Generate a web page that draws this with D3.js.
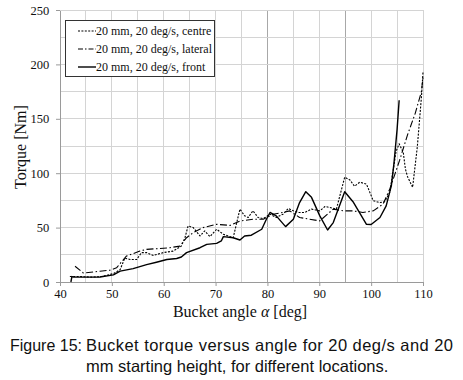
<!DOCTYPE html>
<html>
<head>
<meta charset="utf-8">
<script src="https://cdn.jsdelivr.net/npm/d3@7"></script>
<style>
  html, body { margin: 0; padding: 0; background: #fff; }
  svg { display: block; }
  .serif { font-family: "Liberation Serif", "DejaVu Serif", serif; }
  .caption { font-family: "Liberation Sans", Arial, sans-serif; font-size: 16.5px; fill: #111; }
</style>
</head>
<body>
<svg id="chart" width="463" height="380"></svg>
<script>
// ── Data ────────────────────────────────────────────────────────────────────
const centreAngle = [41.9, 44, 46, 48, 50.3, 51.6, 52.5, 53.5, 54.8, 55.7, 56.7, 58, 59.9, 61.8, 63.4, 64.1, 64.7, 65.7, 67, 67.9, 68.9, 70.2, 71.5, 73.4, 74.7, 75.6, 76.3, 77.2, 78.2, 79.2, 80.5, 81.7, 83, 84, 85, 86, 87.2, 88.5, 90.1, 91.1, 92, 93.3, 94.9, 95.9, 96.8, 97.8, 99.1, 100.4, 101.7, 102.6, 103.6, 104.2, 104.8, 105.4, 106.2, 106.6, 107, 108, 108.9, 109.7, 110];
const centreTorque = [5, 5, 4.5, 5, 7.7, 11.4, 22, 20.7, 20.7, 27, 27, 24.4, 27, 28.4, 33, 40.7, 51.5, 50, 42.3, 46.9, 41.7, 48.5, 43.8, 40.7, 67, 60.8, 59.3, 65.4, 59.3, 58.3, 62.3, 59.3, 62.3, 67.6, 65.4, 63.9, 63.9, 67, 65.4, 69.4, 68.5, 67, 96.3, 93.8, 88, 91.7, 90, 74.7, 73, 73.8, 82.4, 101, 120, 127, 119, 104, 97, 87, 124, 170, 193];

const lateralAngle = [42.9, 44.5, 47.7, 49.6, 50.9, 52.8, 55.4, 56.7, 58.6, 61.2, 63.1, 64.4, 65.7, 67.6, 70.2, 72.8, 74.7, 77.2, 79.2, 81.1, 83, 84.3, 86.2, 88.1, 90.1, 92.7, 94.6, 96.5, 98.4, 100.4, 102.3, 103.6, 104.6, 105.5, 107, 108.5, 109.7, 110];
const lateralTorque = [14.5, 8.3, 9.9, 10.8, 13, 23.8, 28.4, 30, 30.6, 31.5, 33, 40.7, 45.4, 50, 53, 52, 56, 57.7, 57.7, 62.3, 63.9, 65.4, 59.3, 57.7, 56.2, 67, 65.4, 65.4, 63.9, 65.4, 71.6, 85.5, 99.4, 112, 135, 155, 175, 188];

const frontAngle = [42.1, 42.3, 42.6, 45, 47.7, 50.3, 51.6, 54.1, 56.7, 58.6, 60.6, 62.5, 63.4, 64.4, 67, 68.3, 70.2, 71.1, 71.5, 73.4, 74.7, 75.6, 76.9, 78.9, 79.8, 80.5, 81.7, 83.5, 85, 86.2, 87.4, 88.5, 90.1, 91.6, 92.7, 94.9, 96.5, 99.1, 100, 101.7, 102.9, 103.9, 104.4, 105, 105.4];
const frontTorque = [0, 5, 4.6, 4.5, 4.6, 6.5, 10, 12.3, 16, 18.2, 20.7, 21.6, 23, 27, 31.5, 34.6, 35.5, 37.7, 41.7, 40.7, 38.6, 42.3, 43, 48.5, 57.7, 63.9, 60.8, 50.9, 57.7, 73, 83, 77.8, 60.8, 47.8, 54.6, 83, 73.8, 53, 52.8, 59.3, 70, 88.6, 109, 140, 167];

const seriesNames = ["20 mm, 20 deg/s, centre", "20 mm, 20 deg/s, lateral", "20 mm, 20 deg/s, front"];
const xTicks = [40, 50, 60, 70, 80, 90, 100, 110];
const yTicks = [0, 50, 100, 150, 200, 250];

// ── Layout ──────────────────────────────────────────────────────────────────
const svg = d3.select("#chart");
const m = { left: 60, right: 423, top: 10, bottom: 282 };

const x = d3.scaleLinear().domain([40, 110]).range([m.left, m.right]);
const y = d3.scaleLinear().domain([0, 250]).range([m.bottom, m.top]);

// grid
const grid = svg.append("g");
grid.selectAll("line.v").data(d3.range(45, 111, 5)).join("line")
    .attr("x1", d => x(d)).attr("x2", d => x(d))
    .attr("y1", m.top).attr("y2", m.bottom)
    .attr("stroke", d => (d === 80 || d === 95) ? "#a8a8a8" : "#d4d4d4")
    .attr("stroke-width", 1).attr("shape-rendering", "crispEdges");
grid.selectAll("line.h").data(d3.range(25, 251, 25)).join("line")
    .attr("x1", m.left).attr("x2", m.right)
    .attr("y1", d => y(d)).attr("y2", d => y(d))
    .attr("stroke", "#d4d4d4").attr("stroke-width", 1).attr("shape-rendering", "crispEdges");

// axes
const xAxis = svg.append("g").attr("transform", `translate(0,${m.bottom})`)
    .call(d3.axisBottom(x).tickValues(xTicks).tickSize(4).tickSizeOuter(0));
const yAxis = svg.append("g").attr("transform", `translate(${m.left},0)`)
    .call(d3.axisLeft(y).tickValues(yTicks).tickSize(4).tickSizeOuter(0));
[xAxis, yAxis].forEach(a => {
    a.select(".domain").attr("stroke", "#9a9a9a").attr("shape-rendering", "crispEdges");
    a.selectAll(".tick line").attr("stroke", "#9a9a9a");
    a.selectAll("text").attr("class", "serif").attr("font-size", 12.5).attr("fill", "#111");
});
xAxis.selectAll("text").attr("dy", "0.75em");
yAxis.selectAll("text").attr("dx", "-0.3em");

svg.append("text").attr("class", "serif")
    .attr("x", 240).attr("y", 317).attr("text-anchor", "middle")
    .attr("font-size", 16).attr("fill", "#111")
    .html('Bucket angle <tspan font-style="italic">α</tspan> [deg]');

svg.append("text").attr("class", "serif")
    .attr("transform", "translate(26,147) rotate(-90)")
    .attr("text-anchor", "middle").attr("font-size", 16).attr("fill", "#111")
    .text("Torque [Nm]");

// ── Lines ───────────────────────────────────────────────────────────────────
const line = d3.line().x(d => x(d[0])).y(d => y(d[1]));
const styles = [
    { dash: "2,1.4", width: 1.1 },
    { dash: "7,2.5,1.5,2.5", width: 1.1 },
    { dash: null, width: 1.4 },
];
const series = [
    d3.zip(centreAngle, centreTorque),
    d3.zip(lateralAngle, lateralTorque),
    d3.zip(frontAngle, frontTorque),
];
series.forEach((s, i) => {
    svg.append("path").datum(s)
        .attr("fill", "none").attr("stroke", "#000")
        .attr("stroke-width", styles[i].width)
        .attr("stroke-dasharray", styles[i].dash)
        .attr("stroke-linejoin", "round")
        .attr("d", line);
});

// ── Legend ──────────────────────────────────────────────────────────────────
const lg = svg.append("g");
lg.append("rect").attr("x", 65.5).attr("y", 20.5).attr("width", 149).attr("height", 56)
    .attr("fill", "#fff").attr("stroke", "#333").attr("stroke-width", 1);
seriesNames.forEach((name, i) => {
    const ly = 31 + i * 18;
    lg.append("line").attr("x1", 78).attr("x2", 96).attr("y1", ly).attr("y2", ly)
        .attr("stroke", "#000").attr("stroke-width", styles[i].width)
        .attr("stroke-dasharray", i === 1 ? "5,2,1.5,2" : styles[i].dash);
    lg.append("text").attr("class", "serif")
        .attr("x", 96).attr("y", ly + 4).attr("font-size", 12).attr("fill", "#111")
        .text(name);
});

// ── Caption ─────────────────────────────────────────────────────────────────
svg.append("text").attr("class", "caption").attr("x", 10).attr("y", 351)
    .attr("textLength", 72).attr("lengthAdjust", "spacingAndGlyphs")
    .text("Figure 15:");
svg.append("text").attr("class", "caption").attr("x", 86).attr("y", 351)
    .attr("textLength", 367).attr("lengthAdjust", "spacing")
    .text("Bucket torque versus angle for 20 deg/s and 20");
svg.append("text").attr("class", "caption").attr("x", 86).attr("y", 372)
    .text("mm starting height, for different locations.");
</script>
</body>
</html>
